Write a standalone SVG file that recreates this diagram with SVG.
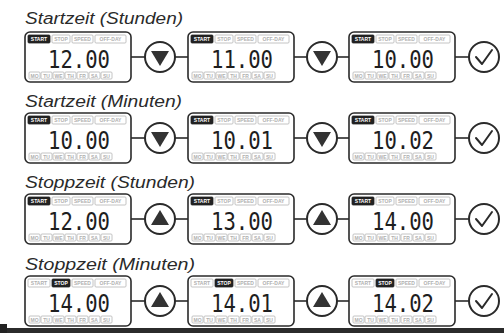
<svg xmlns="http://www.w3.org/2000/svg" xmlns:xlink="http://www.w3.org/1999/xlink" width="504" height="333" viewBox="0 0 504 333">
<style>
.title{font-family:"Liberation Sans","DejaVu Sans",sans-serif;font-style:italic;font-size:16px;fill:#2a2a2a}
.box{fill:#fff;stroke:#2a2a2a;stroke-width:1.6}
.chip{fill:#fff;stroke:#b5b5b5;stroke-width:0.8}
.chipOn{fill:#222;stroke:#222;stroke-width:0.8}
.ct{font-family:"Liberation Sans",sans-serif;font-size:5px;font-weight:bold;fill:#b0b0b0;text-anchor:middle}
.ctOn{font-family:"Liberation Sans",sans-serif;font-size:5px;font-weight:bold;fill:#fff;text-anchor:middle}
.lcd{font-family:"DejaVu Sans Mono","Liberation Mono",monospace;font-size:24px;fill:#1e1e1e;text-anchor:middle}
.ring{fill:#fff;stroke:#2a2a2a;stroke-width:2}
.tri{fill:#333}
.chk{fill:none;stroke:#2a2a2a;stroke-width:2;stroke-linecap:round;stroke-linejoin:round}
.con{stroke:#2a2a2a;stroke-width:1.6}
</style>
<defs>
<g id="topStart">
<rect class="chipOn" x="3" y="3" width="22" height="8" rx="1"/><text class="ctOn" x="14" y="9">START</text>
<rect class="chip" x="27" y="3" width="18" height="8" rx="1"/><text class="ct" x="36" y="9">STOP</text>
<rect class="chip" x="47" y="3" width="21" height="8" rx="1"/><text class="ct" x="57.5" y="9">SPEED</text>
<rect class="chip" x="70" y="3" width="31" height="8" rx="1"/><text class="ct" x="85.5" y="9">OFF-DAY</text>
</g>
<g id="topStop">
<rect class="chip" x="3" y="3" width="22" height="8" rx="1"/><text class="ct" x="14" y="9">START</text>
<rect class="chipOn" x="27" y="3" width="18" height="8" rx="1"/><text class="ctOn" x="36" y="9">STOP</text>
<rect class="chip" x="47" y="3" width="21" height="8" rx="1"/><text class="ct" x="57.5" y="9">SPEED</text>
<rect class="chip" x="70" y="3" width="31" height="8" rx="1"/><text class="ct" x="85.5" y="9">OFF-DAY</text>
</g>
<g id="days">
<rect class="chip" x="4" y="40" width="11" height="7" rx="1"/><text class="ct" x="9.5" y="45.5">MO</text>
<rect class="chip" x="16" y="40" width="11" height="7" rx="1"/><text class="ct" x="21.5" y="45.5">TU</text>
<rect class="chip" x="28" y="40" width="11" height="7" rx="1"/><text class="ct" x="33.5" y="45.5">WE</text>
<rect class="chip" x="40" y="40" width="11" height="7" rx="1"/><text class="ct" x="45.5" y="45.5">TH</text>
<rect class="chip" x="52" y="40" width="11" height="7" rx="1"/><text class="ct" x="57.5" y="45.5">FR</text>
<rect class="chip" x="64" y="40" width="11" height="7" rx="1"/><text class="ct" x="69.5" y="45.5">SA</text>
<rect class="chip" x="76" y="40" width="11" height="7" rx="1"/><text class="ct" x="81.5" y="45.5">SU</text>
</g>
</defs>
<rect width="504" height="333" fill="#fff"/>

<text class="title" x="25" y="24" textLength="158" lengthAdjust="spacingAndGlyphs">Startzeit (Stunden)</text>
<text class="title" x="25" y="107" textLength="157" lengthAdjust="spacingAndGlyphs">Startzeit (Minuten)</text>
<text class="title" x="25" y="188" textLength="170" lengthAdjust="spacingAndGlyphs">Stoppzeit (Stunden)</text>
<text class="title" x="25" y="270" textLength="170" lengthAdjust="spacingAndGlyphs">Stoppzeit (Minuten)</text>

<g id="connectors">
<line class="con" x1="131" y1="57" x2="145" y2="57"/><line class="con" x1="175" y1="57" x2="188" y2="57"/>
<line class="con" x1="294" y1="57" x2="307" y2="57"/><line class="con" x1="337" y1="57" x2="349" y2="57"/>
<line class="con" x1="455" y1="57" x2="469" y2="57"/>
<line class="con" x1="131" y1="138" x2="145" y2="138"/><line class="con" x1="175" y1="138" x2="188" y2="138"/>
<line class="con" x1="294" y1="138" x2="307" y2="138"/><line class="con" x1="337" y1="138" x2="349" y2="138"/>
<line class="con" x1="455" y1="138" x2="469" y2="138"/>
<line class="con" x1="131" y1="219" x2="145" y2="219"/><line class="con" x1="175" y1="219" x2="188" y2="219"/>
<line class="con" x1="294" y1="219" x2="307" y2="219"/><line class="con" x1="337" y1="219" x2="349" y2="219"/>
<line class="con" x1="455" y1="219" x2="469" y2="219"/>
<line class="con" x1="131" y1="301" x2="145" y2="301"/><line class="con" x1="175" y1="301" x2="188" y2="301"/>
<line class="con" x1="294" y1="301" x2="307" y2="301"/><line class="con" x1="337" y1="301" x2="349" y2="301"/>
<line class="con" x1="455" y1="301" x2="469" y2="301"/>
</g>

<!-- Row 1 -->
<g id="r1b1" transform="translate(25,32)"><rect class="box" x="0" y="0" width="106" height="50" rx="5"/><use xlink:href="#topStart"/><use xlink:href="#days"/><text class="lcd" x="54" y="36" textLength="62" lengthAdjust="spacingAndGlyphs">12.00</text></g>
<g id="r1c1"><circle class="ring" cx="160" cy="57" r="15"/><polygon class="tri" points="151,51 169,51 160,66"/></g>
<g id="r1b2" transform="translate(188,32)"><rect class="box" x="0" y="0" width="106" height="50" rx="5"/><use xlink:href="#topStart"/><use xlink:href="#days"/><text class="lcd" x="54" y="36" textLength="62" lengthAdjust="spacingAndGlyphs">11.00</text></g>
<g id="r1c2"><circle class="ring" cx="322" cy="57" r="15"/><polygon class="tri" points="313,51 331,51 322,66"/></g>
<g id="r1b3" transform="translate(349,32)"><rect class="box" x="0" y="0" width="106" height="50" rx="5"/><use xlink:href="#topStart"/><use xlink:href="#days"/><text class="lcd" x="54" y="36" textLength="62" lengthAdjust="spacingAndGlyphs">10.00</text></g>
<g id="r1ok"><circle class="ring" cx="484" cy="57" r="15"/><path class="chk" d="M476,57 L482,64 L492,50"/></g>

<!-- Row 2 -->
<g id="r2b1" transform="translate(25,113)"><rect class="box" x="0" y="0" width="106" height="50" rx="5"/><use xlink:href="#topStart"/><use xlink:href="#days"/><text class="lcd" x="54" y="36" textLength="62" lengthAdjust="spacingAndGlyphs">10.00</text></g>
<g id="r2c1"><circle class="ring" cx="160" cy="138" r="15"/><polygon class="tri" points="151,132 169,132 160,147"/></g>
<g id="r2b2" transform="translate(188,113)"><rect class="box" x="0" y="0" width="106" height="50" rx="5"/><use xlink:href="#topStart"/><use xlink:href="#days"/><text class="lcd" x="54" y="36" textLength="62" lengthAdjust="spacingAndGlyphs">10.01</text></g>
<g id="r2c2"><circle class="ring" cx="322" cy="138" r="15"/><polygon class="tri" points="313,132 331,132 322,147"/></g>
<g id="r2b3" transform="translate(349,113)"><rect class="box" x="0" y="0" width="106" height="50" rx="5"/><use xlink:href="#topStart"/><use xlink:href="#days"/><text class="lcd" x="54" y="36" textLength="62" lengthAdjust="spacingAndGlyphs">10.02</text></g>
<g id="r2ok"><circle class="ring" cx="484" cy="138" r="15"/><path class="chk" d="M476,138 L482,145 L492,131"/></g>

<!-- Row 3 -->
<g id="r3b1" transform="translate(25,194)"><rect class="box" x="0" y="0" width="106" height="50" rx="5"/><use xlink:href="#topStart"/><use xlink:href="#days"/><text class="lcd" x="54" y="36" textLength="62" lengthAdjust="spacingAndGlyphs">12.00</text></g>
<g id="r3c1"><circle class="ring" cx="160" cy="219" r="15"/><polygon class="tri" points="151,225 169,225 160,210"/></g>
<g id="r3b2" transform="translate(188,194)"><rect class="box" x="0" y="0" width="106" height="50" rx="5"/><use xlink:href="#topStart"/><use xlink:href="#days"/><text class="lcd" x="54" y="36" textLength="62" lengthAdjust="spacingAndGlyphs">13.00</text></g>
<g id="r3c2"><circle class="ring" cx="322" cy="219" r="15"/><polygon class="tri" points="313,225 331,225 322,210"/></g>
<g id="r3b3" transform="translate(349,194)"><rect class="box" x="0" y="0" width="106" height="50" rx="5"/><use xlink:href="#topStart"/><use xlink:href="#days"/><text class="lcd" x="54" y="36" textLength="62" lengthAdjust="spacingAndGlyphs">14.00</text></g>
<g id="r3ok"><circle class="ring" cx="484" cy="219" r="15"/><path class="chk" d="M476,219 L482,226 L492,212"/></g>

<!-- Row 4 -->
<g id="r4b1" transform="translate(25,276)"><rect class="box" x="0" y="0" width="106" height="50" rx="5"/><use xlink:href="#topStop"/><use xlink:href="#days"/><text class="lcd" x="54" y="36" textLength="62" lengthAdjust="spacingAndGlyphs">14.00</text></g>
<g id="r4c1"><circle class="ring" cx="160" cy="301" r="15"/><polygon class="tri" points="151,307 169,307 160,292"/></g>
<g id="r4b2" transform="translate(188,276)"><rect class="box" x="0" y="0" width="106" height="50" rx="5"/><use xlink:href="#topStop"/><use xlink:href="#days"/><text class="lcd" x="54" y="36" textLength="62" lengthAdjust="spacingAndGlyphs">14.01</text></g>
<g id="r4c2"><circle class="ring" cx="322" cy="301" r="15"/><polygon class="tri" points="313,307 331,307 322,292"/></g>
<g id="r4b3" transform="translate(349,276)"><rect class="box" x="0" y="0" width="106" height="50" rx="5"/><use xlink:href="#topStop"/><use xlink:href="#days"/><text class="lcd" x="54" y="36" textLength="62" lengthAdjust="spacingAndGlyphs">14.02</text></g>
<g id="r4ok"><circle class="ring" cx="484" cy="301" r="15"/><path class="chk" d="M476,301 L482,308 L492,294"/></g>

<rect x="0" y="328" width="504" height="5" fill="#2b2b2b"/>
<rect x="0" y="324" width="7" height="9" fill="#222"/>
</svg>
